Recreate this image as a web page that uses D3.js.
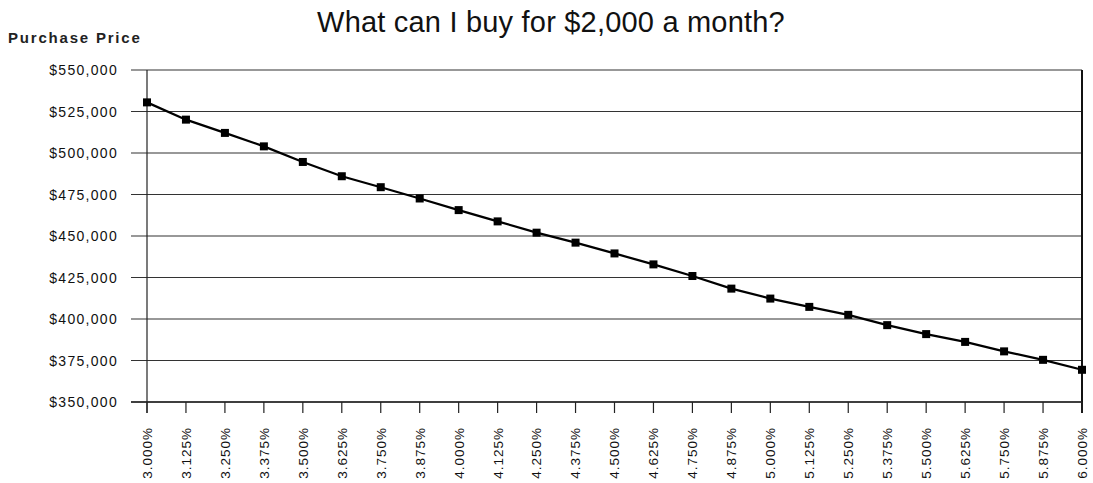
<!DOCTYPE html>
<html lang="en">
<head>
<meta charset="UTF-8">
<title>What can I buy for $2,000 a month?</title>
<script src="https://d3js.org/d3.v7.min.js"></script>
<style>
  body { margin: 0; background: #fff; }
  svg { display: block; font-family: "Liberation Sans", Arial, sans-serif; }
  .grid line { stroke: #333; stroke-width: 1.2; }
  .axis text { fill: #111; }
</style>
</head>
<body>
<div id="chart"></div>
<script>
// interest rates along the x axis
var rates = ["3.000%", "3.125%", "3.250%", "3.375%", "3.500%", "3.625%", "3.750%", "3.875%",
             "4.000%", "4.125%", "4.250%", "4.375%", "4.500%", "4.625%", "4.750%", "4.875%",
             "5.000%", "5.125%", "5.250%", "5.375%", "5.500%", "5.625%", "5.750%", "5.875%", "6.000%"];

// purchase price
var prices = [530500, 520100, 512100, 504000, 494600, 486000, 479400, 472600,
              465600, 458800, 452000, 446000, 439500, 432900, 425900, 418300,
              412300, 407300, 402500, 396300, 390900, 386200, 380500, 375400, 369400];

var priceTicks = [350000, 375000, 400000, 425000, 450000, 475000, 500000, 525000, 550000];

var width = 1093, height = 483;
var margin = {top: 70, right: 11, bottom: 81, left: 147};

var svg = d3.select("#chart").append("svg")
    .attr("width", width)
    .attr("height", height);

var x = d3.scalePoint()
    .domain(rates)
    .range([margin.left, width - margin.right]);

var y = d3.scaleLinear()
    .domain([350000, 550000])
    .range([height - margin.bottom, margin.top]);

var fmt = d3.format("$,");

// horizontal gridlines, they poke out left of the axis like ticks
svg.append("g")
    .attr("class", "grid")
    .selectAll("line")
    .data(priceTicks)
    .enter().append("line")
    .attr("x1", margin.left - 16)
    .attr("x2", width - margin.right)
    .attr("y1", function(d) { return y(d); })
    .attr("y2", function(d) { return y(d); });

// y labels
svg.append("g")
    .attr("class", "axis")
    .selectAll("text")
    .data(priceTicks)
    .enter().append("text")
    .attr("x", 118)
    .attr("y", function(d) { return y(d); })
    .attr("dy", "0.36em")
    .attr("text-anchor", "end")
    .style("font-size", "14px")
    .style("letter-spacing", "1.3px")
    .text(function(d) { return fmt(d); });

// left axis line and right border
svg.append("line")
    .attr("x1", margin.left).attr("x2", margin.left)
    .attr("y1", margin.top).attr("y2", height - margin.bottom + 11)
    .attr("stroke", "#222").attr("stroke-width", 1.2);

svg.append("line")
    .attr("x1", width - margin.right).attr("x2", width - margin.right)
    .attr("y1", margin.top).attr("y2", height - margin.bottom + 11)
    .attr("stroke", "#111").attr("stroke-width", 2);

// bottom axis line
svg.append("line")
    .attr("x1", margin.left - 16).attr("x2", width - margin.right)
    .attr("y1", y(350000)).attr("y2", y(350000))
    .attr("stroke", "#222").attr("stroke-width", 1.6);

// x ticks and rotated labels
var xg = svg.append("g").attr("class", "axis");

xg.selectAll("line")
    .data(rates)
    .enter().append("line")
    .attr("x1", function(d) { return x(d); })
    .attr("x2", function(d) { return x(d); })
    .attr("y1", y(350000))
    .attr("y2", y(350000) + 11)
    .attr("stroke", "#222")
    .attr("stroke-width", 1.2);

xg.selectAll("text")
    .data(rates)
    .enter().append("text")
    .attr("transform", function(d) { return "translate(" + x(d) + "," + 427 + ") rotate(-90)"; })
    .attr("dy", "0.36em")
    .attr("text-anchor", "end")
    .style("font-size", "13.5px")
    .style("letter-spacing", "1px")
    .text(function(d) { return d; });

// the series
var pts = rates.map(function(r, i) { return [x(r), y(prices[i])]; });

svg.append("path")
    .attr("d", d3.line()(pts))
    .attr("fill", "none")
    .attr("stroke", "#000")
    .attr("stroke-width", 2.2);

svg.selectAll("rect.marker")
    .data(pts)
    .enter().append("rect")
    .attr("class", "marker")
    .attr("x", function(d) { return d[0] - 4; })
    .attr("y", function(d) { return d[1] - 4; })
    .attr("width", 8)
    .attr("height", 8)
    .attr("fill", "#000");

// titles
svg.append("text")
    .attr("x", 551)
    .attr("y", 32)
    .attr("text-anchor", "middle")
    .style("font-size", "29px")
    .style("letter-spacing", "0.2px")
    .style("fill", "#111")
    .text("What can I buy for $2,000 a month?");

svg.append("text")
    .attr("x", 8)
    .attr("y", 43)
    .style("font-size", "15px")
    .style("font-weight", "bold")
    .style("letter-spacing", "1.8px")
    .style("fill", "#222")
    .text("Purchase Price");
</script>
</body>
</html>
